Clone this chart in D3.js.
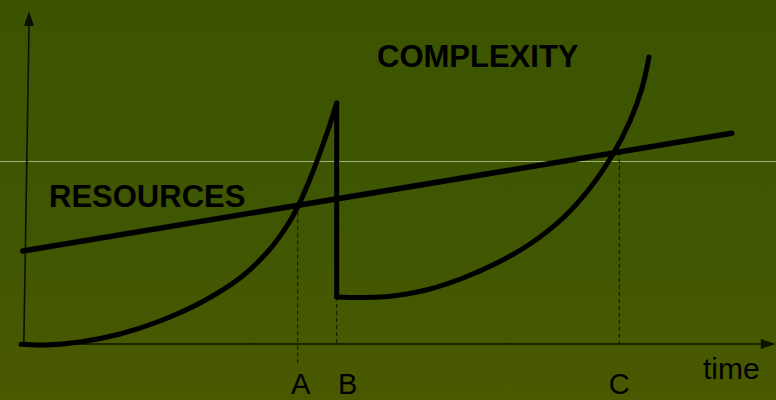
<!DOCTYPE html>
<html>
<head>
<meta charset="utf-8">
<script src="https://cdn.jsdelivr.net/npm/d3@7"></script>
<style>
  html, body { margin: 0; padding: 0; background: #3f5600; }
  svg { display: block; }
</style>
</head>
<body>
<svg id="chart" width="776" height="400"></svg>
<script>
// Resources grow steadily over time: [time, level]
const resources = [[-0.85, 27.84], [94.96, 63.08]];

// Complexity before the restructuring at B: [time, level]
const complexityBefore = [
  [-1.08, -0.09], [2.16, -0.30], [6.89, 0.60], [12.30, 2.99], [17.70, 6.89],
  [23.11, 12.28], [28.51, 19.76], [32.57, 28.44], [35.27, 36.83], [36.62, 42.51],
  [37.97, 49.40], [39.32, 57.19], [40.68, 65.87], [41.58, 72.16]
];

// Complexity after the restructuring at B: [time, level]
const complexityAfter = [
  [41.58, 14.07], [44.73, 13.92], [47.43, 14.07], [50.14, 14.67], [54.19, 16.47],
  [58.65, 19.76], [63.24, 24.25], [67.70, 29.94], [72.16, 37.72], [75.81, 46.71],
  [78.92, 56.89], [81.22, 66.77], [82.84, 76.65], [83.78, 85.93]
];

// Marked moments on the time axis
const markerNames = ["A", "B", "C"];
const markerTimes = [36.31, 41.58, 79.77];

// Text labels
const seriesNames = ["RESOURCES", "COMPLEXITY"];
const axisTitle = "time";

const svg = d3.select("#chart");
const W = 776, H = 400;

// Background wash
const defs = svg.append("defs");
const grad = defs.append("linearGradient").attr("id", "bg")
  .attr("x1", 0).attr("y1", 0).attr("x2", 0).attr("y2", 1);
grad.append("stop").attr("offset", "0%").attr("stop-color", "#3c5400");
grad.append("stop").attr("offset", "55%").attr("stop-color", "#3f5602");
grad.append("stop").attr("offset", "100%").attr("stop-color", "#4a5900");
svg.append("rect").attr("width", W).attr("height", H).attr("fill", "url(#bg)");

const x = d3.scaleLinear().domain([0, 100]).range([29, 769]);
const y = d3.scaleLinear().domain([0, 100]).range([344, 10]);

// Thin light guide line across the slide
svg.append("line")
  .attr("x1", 0).attr("x2", W)
  .attr("y1", 161.5).attr("y2", 161.5)
  .attr("stroke", "#a3ad7c").attr("stroke-width", 1);

// Axes with arrow heads
const axisColor = "#0d1200";
svg.append("line")
  .attr("x1", x(-0.95)).attr("y1", y(0))
  .attr("x2", x(99.0)).attr("y2", y(0))
  .attr("stroke", axisColor).attr("stroke-width", 1.6);
svg.append("path")
  .attr("d", `M${x(100.9)},${y(0)} L${x(98.9)},${y(0) - 5} L${x(98.9)},${y(0) + 5} Z`)
  .attr("fill", axisColor);

svg.append("line")
  .attr("x1", x(-0.7)).attr("y1", y(0))
  .attr("x2", x(0)).attr("y2", y(95.2))
  .attr("stroke", axisColor).attr("stroke-width", 1.6);
svg.append("path")
  .attr("d", `M${x(0)},${y(99.7)} L${x(-0.68)},${y(95.2)} L${x(0.68)},${y(95.2)} Z`)
  .attr("fill", axisColor);

// Resources level at a given time, from the resources series
const resAt = d3.scaleLinear()
  .domain(resources.map(d => d[0]))
  .range(resources.map(d => d[1]));

// Dashed drop lines for each marked moment
const dropTops = [resAt(markerTimes[0]), complexityAfter[0][1], resAt(markerTimes[2])];
const dropBottoms = [-5.7, 0, 0];
svg.append("g").selectAll("line")
  .data(markerTimes)
  .join("line")
  .attr("x1", d => x(d)).attr("x2", d => x(d))
  .attr("y1", (d, i) => y(dropTops[i]))
  .attr("y2", (d, i) => y(dropBottoms[i]))
  .attr("stroke", "#111500").attr("stroke-width", 1)
  .attr("stroke-dasharray", "4,3");

// Curves
const line = d3.line().x(d => x(d[0])).y(d => y(d[1]));
const curve = d3.line().x(d => x(d[0])).y(d => y(d[1])).curve(d3.curveCatmullRom.alpha(0.5));

const stroke = { fill: "none", stroke: "#000", "stroke-width": 5, "stroke-linecap": "round", "stroke-linejoin": "round" };
function styled(sel) { Object.entries(stroke).forEach(([k, v]) => sel.attr(k, v)); return sel; }

styled(svg.append("path").attr("d", curve(complexityBefore)));
styled(svg.append("path").attr("d", line([complexityBefore[complexityBefore.length - 1], complexityAfter[0]])));
styled(svg.append("path").attr("d", curve(complexityAfter)));
styled(svg.append("path").attr("d", line(resources))).attr("stroke-width", 5.5);

// Series names
const font = "'Liberation Sans', Arial, Helvetica, sans-serif";
svg.append("text")
  .attr("x", 49).attr("y", 207)
  .attr("font-family", font).attr("font-weight", "bold").attr("font-size", 31)
  .attr("fill", "#000").text(seriesNames[0]);
svg.append("text")
  .attr("x", 377).attr("y", 67)
  .attr("font-family", font).attr("font-weight", "bold").attr("font-size", 31)
  .attr("fill", "#000").text(seriesNames[1]);

// Marker letters under the axis
const letterShift = [3, 11, 0];
svg.append("g").selectAll("text")
  .data(markerNames)
  .join("text")
  .attr("x", (d, i) => x(markerTimes[i]) + letterShift[i])
  .attr("y", 394)
  .attr("text-anchor", "middle")
  .attr("font-family", font).attr("font-size", 29)
  .attr("fill", "#000")
  .text(d => d);

// Axis title
svg.append("text")
  .attr("x", 703).attr("y", 379)
  .attr("font-family", font).attr("font-size", 30)
  .attr("fill", "#000").text(axisTitle);
</script>
</body>
</html>
